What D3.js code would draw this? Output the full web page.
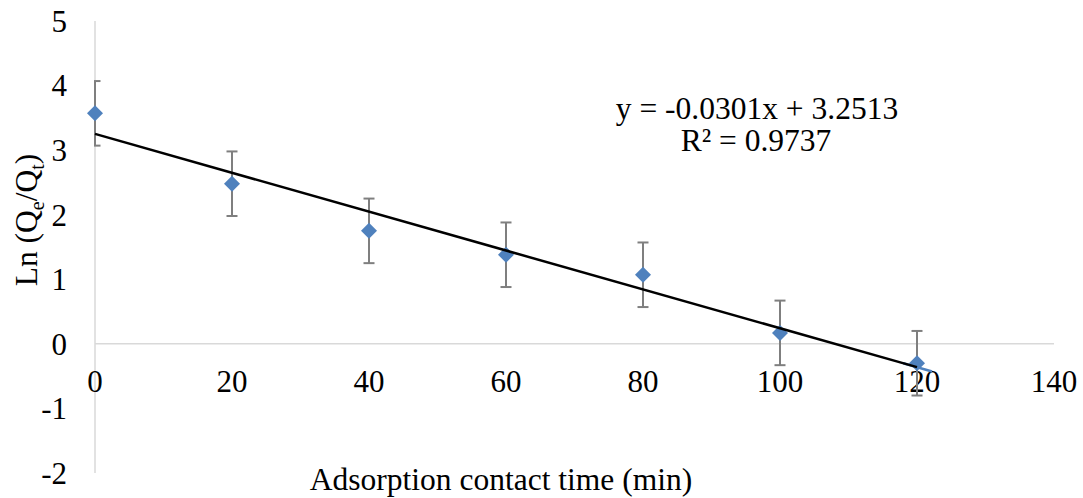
<!DOCTYPE html>
<html><head><meta charset="utf-8">
<script src="https://cdn.jsdelivr.net/npm/d3@7"></script>
<style>body{margin:0;background:#fff}svg{display:block}text{font-family:"Liberation Serif","Times New Roman",serif;fill:#000}</style>
</head><body><svg id="c" width="1083" height="498"></svg>
<script>
const times = [0, 20, 40, 60, 80, 100, 120];
const lnValues = [3.57, 2.48, 1.75, 1.38, 1.07, 0.17, -0.30];
const errors = [0.5, 0.5, 0.5, 0.5, 0.5, 0.5, 0.5];
const xTicks = [0, 20, 40, 60, 80, 100, 120, 140];
const yTicks = [-2, -1, 0, 1, 2, 3, 4, 5];
const slope = -0.0301, intercept = 3.2513;
const eqLabel = "y = -0.0301x + 3.2513";
const r2Label = "R² = 0.9737";

const svg = d3.select("#c");
const x = d3.scaleLinear().domain([0, 140]).range([95, 1054]);
const y = d3.scaleLinear().domain([-2, 5]).range([473, 21]);

svg.append("line").attr("x1", x(0)).attr("x2", x(0)).attr("y1", y(5)).attr("y2", y(-2))
  .attr("stroke", "#d9d9d9").attr("stroke-width", 1.5);
svg.append("line").attr("x1", x(0)).attr("x2", x(140)).attr("y1", y(0)).attr("y2", y(0))
  .attr("stroke", "#d9d9d9").attr("stroke-width", 1.5);

svg.selectAll(".yt").data(yTicks).enter().append("text")
  .attr("x", 67).attr("y", d => y(d)).attr("dy", "0.35em").attr("text-anchor", "end")
  .attr("font-size", 31).text(d => d);
svg.selectAll(".xt").data(xTicks).enter().append("text")
  .attr("x", d => x(d)).attr("y", y(0) + 37).attr("dy", "0.35em").attr("text-anchor", "middle")
  .attr("font-size", 31).text(d => d);

svg.append("clipPath").attr("id", "pa").append("rect")
  .attr("x", x(0) - 1).attr("y", 0).attr("width", 1000).attr("height", 498);

const eg = svg.append("g").attr("clip-path", "url(#pa)");
times.forEach((t, i) => {
  const cx = x(t), top = y(lnValues[i] + errors[i]), bot = y(lnValues[i] - errors[i]);
  eg.append("line").attr("x1", cx).attr("x2", cx).attr("y1", top).attr("y2", bot)
    .attr("stroke", "#7f7f7f").attr("stroke-width", 2);
  [top, bot].forEach(yy => eg.append("line").attr("x1", cx - 5.5).attr("x2", cx + 5.5)
    .attr("y1", yy).attr("y2", yy).attr("stroke", "#7f7f7f").attr("stroke-width", 2));
});

svg.selectAll(".pt").data(times).enter().append("path")
  .attr("transform", (d, i) => `translate(${x(d)},${y(lnValues[i])})`)
  .attr("d", "M0,-8L8,0L0,8L-8,0Z").attr("fill", "#4f81bd");

const tl = t => intercept + slope * t;
svg.append("line").attr("x1", x(118)).attr("y1", y(tl(118))).attr("x2", x(122.2)).attr("y2", y(tl(122.2)))
  .attr("stroke", "#4f81bd").attr("stroke-width", 2.5);
svg.append("line").attr("x1", x(0)).attr("y1", y(tl(0))).attr("x2", x(120)).attr("y2", y(tl(120)))
  .attr("stroke", "#000").attr("stroke-width", 2.5);

svg.append("text").attr("x", 757).attr("y", 119).attr("text-anchor", "middle").attr("font-size", 31.5).text(eqLabel);
svg.append("text").attr("x", 756).attr("y", 151).attr("text-anchor", "middle").attr("font-size", 31.5).text(r2Label);

svg.append("text").attr("x", 501).attr("y", 490).attr("text-anchor", "middle").attr("font-size", 31.5)
  .text("Adsorption contact time (min)");
const yt = svg.append("text").attr("transform", "translate(37,220) rotate(-90)").attr("text-anchor", "middle").attr("font-size", 31.5);
yt.append("tspan").text("Ln (Q");
yt.append("tspan").attr("font-size", 20).attr("dy", 7).text("e");
yt.append("tspan").attr("dy", -7).text("/Q");
yt.append("tspan").attr("font-size", 20).attr("dy", 7).text("t");
yt.append("tspan").attr("dy", -7).text(")");
</script></body></html>
